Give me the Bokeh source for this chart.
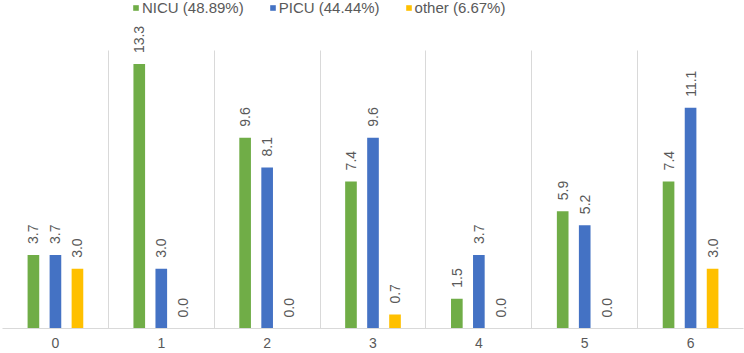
import math
from bokeh.plotting import figure
from bokeh.models import (ColumnDataSource, Range1d, FixedTicker, Legend, LegendItem)
from bokeh.transform import dodge
from bokeh.core.properties import value
from bokeh.embed import file_html
from bokeh.resources import INLINE

categories = [0, 1, 2, 3, 4, 5, 6]
tick_labels = ["0", "1", "2", "3", "4", "5", "6"]
nicu = [3.7, 13.3, 9.6, 7.4, 1.5, 5.9, 7.4]
picu = [3.7, 3.0, 8.1, 9.6, 3.7, 5.2, 11.1]
other = [3.0, 0.0, 0.0, 0.7, 0.0, 0.0, 3.0]
series_names = ["NICU (48.89%)", "PICU (44.44%)", "other (6.67%)"]
series_colors = ["#70AD47", "#4472C4", "#FFC000"]
value_axis_max = 14

FONT = "Liberation Sans"
TXT = "#595959"
GRID = "#D9D9D9"

p = figure(width=744, height=353, output_backend="svg", toolbar_location=None,
           x_range=Range1d(-0.5, 6.5), y_range=Range1d(0, 16.5),
           y_axis_location=None, min_border_left=2, min_border_right=1,
           min_border_top=0, min_border_bottom=25)
p.outline_line_color = None
p.background_fill_color = "white"
p.border_fill_color = "white"

p.ygrid.visible = False
bounds = [c - 0.5 for c in categories] + [categories[-1] + 0.5]
grid_ok = True
try:
    p.xgrid.cross_bounds = (0, value_axis_max)
except Exception:
    grid_ok = False
if grid_ok:
    p.xgrid.ticker = FixedTicker(ticks=bounds)
    p.xgrid.grid_line_color = GRID
    p.xgrid.grid_line_width = 1
else:
    p.xgrid.visible = False
    p.segment(x0=bounds, x1=bounds, y0=[0] * len(bounds), y1=[value_axis_max] * len(bounds),
              line_color=GRID, line_width=1)

ax = p.xaxis[0]
ax.ticker = FixedTicker(ticks=categories)
ax.major_label_overrides = {c: t for c, t in zip(categories, tick_labels)}
ax.major_tick_line_color = None
ax.minor_tick_line_color = None
ax.major_tick_out = 0
ax.major_tick_in = 0
ax.axis_line_color = GRID
ax.major_label_standoff = 9
ax.major_label_text_font = FONT
ax.major_label_text_font_size = "14px"
ax.major_label_text_color = TXT

offsets = [-0.208, 0.0, 0.208]
items = []
for name, vals, color, off in zip(series_names, [nicu, picu, other], series_colors, offsets):
    src = ColumnDataSource(dict(cat=categories, val=vals, lab=[f"{v:.1f}" for v in vals]))
    r = p.vbar(x=dodge("cat", off, range=p.x_range), top="val", width=0.11, bottom=0,
               source=src, fill_color=color, line_color=None)
    p.text(x=dodge("cat", off, range=p.x_range), y="val", text="lab", source=src,
           angle=math.pi / 2, text_align="left", text_baseline="middle",
           y_offset=-11, text_font=value(FONT), text_font_size="14px", text_color=TXT)
    items.append(LegendItem(label=name, renderers=[r]))

legend = Legend(items=items, orientation="horizontal", location=(130, 312),
                glyph_width=7, glyph_height=7, label_standoff=3, spacing=25,
                padding=0, margin=0, border_line_color=None, background_fill_alpha=0,
                label_text_font=FONT, label_text_font_size="15px", label_text_color=TXT,
                label_height=16)
p.add_layout(legend, "center")

open("out.html", "w").write(file_html(p, INLINE))
